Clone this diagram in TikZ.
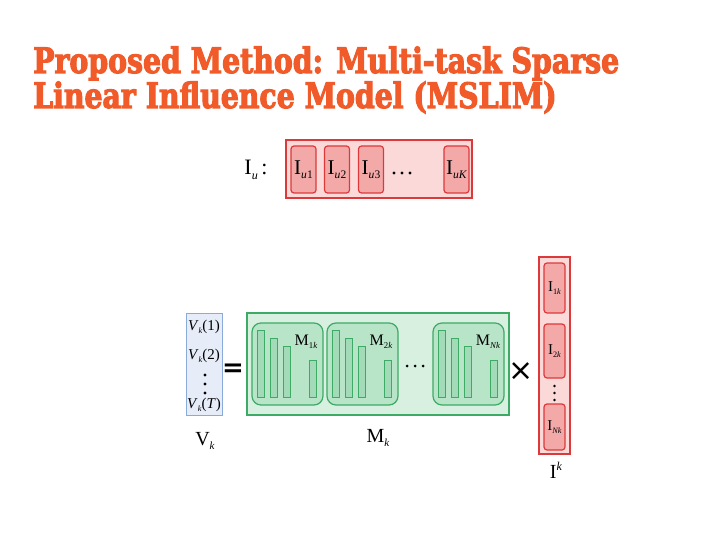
\documentclass[tikz,border=0pt]{standalone}
\usepackage{graphicx}
\usepackage{fontspec}
\setmainfont{Liberation Serif}
\newfontfamily\titulo[FakeStretch=0.81,FakeBold=3]{DejaVu Serif}
\newfontfamily\simbolo{DejaVu Sans}

\definecolor{naranja}{HTML}{F15A29}
\definecolor{rojo}{HTML}{DC3A3A}
\definecolor{rosa}{HTML}{FBD9D9}
\definecolor{rosaosc}{HTML}{F4A9A9}
\definecolor{verde}{HTML}{3DAA66}
\definecolor{verdeclaro}{HTML}{D7F0E0}
\definecolor{verdemed}{HTML}{B8E4C8}
\definecolor{verdebarra}{HTML}{A3DBB8}
\definecolor{azul}{HTML}{8AAADB}
\definecolor{azulclaro}{HTML}{E7EDF8}

% subindice pequeno
\newcommand{\subi}[1]{\raisebox{-0.45ex}{\scalebox{0.55}{#1}}}
\newcommand{\supi}[1]{\raisebox{0.9ex}{\scalebox{0.6}{#1}}}

\tikzset{
  cajaroja/.style={draw=rojo, fill=rosa, line width=1.2pt, inner sep=0pt},
  celdaroja/.style={draw=rojo, fill=rosaosc, line width=1.2pt, rounded corners=3pt,
    inner sep=0pt, font=\fontsize{21}{22}\selectfont},
  celdacol/.style={celdaroja, minimum width=21pt, font=\fontsize{15}{16}\selectfont},
  cajaverde/.style={draw=verde, fill=verdeclaro, line width=1.2pt, inner sep=0pt},
  celdaverde/.style={draw=verde, fill=verdemed, line width=1.2pt, rounded corners=9pt,
    inner sep=0pt, minimum width=71pt, minimum height=82pt},
  barra/.style={draw=verde, fill=verdebarra, line width=1pt},
  cajaazul/.style={draw=azul, fill=azulclaro, line width=1pt, inner sep=0pt},
  etiq/.style={inner sep=0pt, font=\fontsize{20}{22}\selectfont},
  etiqv/.style={inner sep=0pt, font=\fontsize{15}{16}\selectfont},
  etiqm/.style={inner sep=0pt, font=\fontsize{16}{17}\selectfont},
}

\begin{document}
\begin{tikzpicture}[x=1pt,y=-1pt]
  \useasboundingbox[fill=white] (0,0) rectangle (720,540);

  % Titulo
  \node[anchor=base west, inner sep=0pt, text=naranja,
    font=\titulo\bfseries\fontsize{35}{35}\selectfont] (titulo1) at (33,73)
    {Proposed Method: Multi-task Sparse};
  \node[anchor=base west, inner sep=0pt, text=naranja,
    font=\titulo\bfseries\fontsize{35}{35}\selectfont] (titulo2) at (33,108)
    {Linear Influence Model (MSLIM)};

  % Fila I_u
  \node[etiq, font=\fontsize{22}{22}\selectfont] (iulab) at (256,170) {I\subi{\textit{u}}\,:};
  \node[cajaroja, minimum width=186pt, minimum height=58pt] (iu) at (379,169) {};
  \node[celdaroja, minimum width=25pt, minimum height=47pt] (iu1) at (303.5,169.5) {I\subi{\textit{u}1}};
  \node[celdaroja, minimum width=25pt, minimum height=47pt] (iu2) at (337,169.5) {I\subi{\textit{u}2}};
  \node[celdaroja, minimum width=25pt, minimum height=47pt] (iu3) at (371,169.5) {I\subi{\textit{u}3}};
  \node[celdaroja, minimum width=25pt, minimum height=47pt] (iuk) at (456.5,169.5) {I\subi{\textit{uK}}};
  \foreach \px in {394,402,410}
    \fill (\px,173) circle (1.6pt);

  % Vector V_k
  \node[cajaazul, minimum width=36pt, minimum height=102pt] (vk) at (204,364) {};
  \node[etiqv] (v1) at (204,327) {\textit{V}\subi{\textit{k}}(1)};
  \node[etiqv] (v2) at (204,356) {\textit{V}\subi{\textit{k}}(2)};
  \node[etiqv] (vt) at (204,405) {\textit{V}\subi{\textit{k}}(\textit{T})};
  \foreach \py in {375,384,393}
    \fill (205,\py) circle (1.6pt);
  \node[etiq] (vklab) at (205,441) {V\subi{\textit{k}}};
  \node[inner sep=0pt, font=\simbolo\bfseries\fontsize{26}{26}\selectfont] (igual) at (233,370) {=};

  % Matriz M_k
  \node[cajaverde, minimum width=262pt, minimum height=102pt] (mk) at (378,364) {};
  \node[celdaverde] (m1) at (287.5,364) {};
  \node[celdaverde] (m2) at (362.5,364) {};
  \node[celdaverde] (mn) at (468.5,364) {};
  \foreach \bx in {252,327,433} {
    \draw[barra] (\bx+5,330) rectangle (\bx+12,397);
    \draw[barra] (\bx+18,338) rectangle (\bx+25,397);
    \draw[barra] (\bx+31,346) rectangle (\bx+38,397);
    \draw[barra] (\bx+57,360) rectangle (\bx+64,397);
  }
  \node[etiqm] (m1lab) at (306,342) {M\subi{1\textit{k}}};
  \node[etiqm] (m2lab) at (381,342) {M\subi{2\textit{k}}};
  \node[etiqm] (mnlab) at (488,342) {M\subi{\textit{Nk}}};
  \foreach \px in {407,415,423}
    \fill (\px,366) circle (1.5pt);
  \node[etiq] (mklab) at (378,438) {M\subi{\textit{k}}};
  \node[inner sep=0pt, font=\simbolo\fontsize{30}{30}\selectfont] (por) at (521,372) {\char"00D7};

  % Columna I^k
  \node[cajaroja, minimum width=31pt, minimum height=197pt] (ik) at (554.5,355.5) {};
  \node[celdacol, minimum height=50pt] (i1) at (554.5,288) {I\subi{1\textit{k}}};
  \node[celdacol, minimum height=54pt] (i2) at (554.5,351) {I\subi{2\textit{k}}};
  \foreach \py in {386,393,400}
    \fill (554.5,\py) circle (1.3pt);
  \node[celdacol, minimum height=46pt] (in) at (554.5,427) {I\subi{\textit{Nk}}};
  \node[etiq] (iklab) at (556,470) {I\supi{\textit{k}}};
\end{tikzpicture}
\end{document}
